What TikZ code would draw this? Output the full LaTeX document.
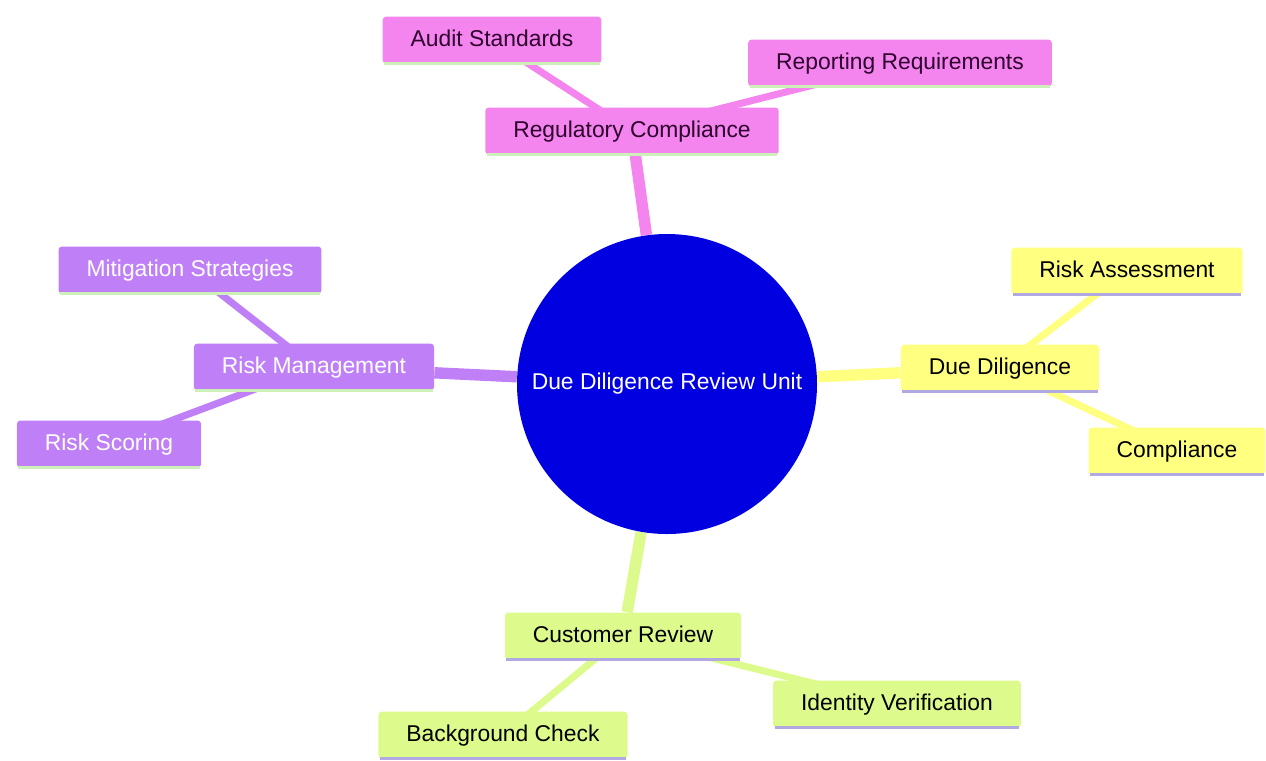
\documentclass[tikz,border=0pt]{standalone}
\usepackage{fontspec}
\setmainfont{Liberation Sans}
\usetikzlibrary{backgrounds}
\definecolor{pinkbr}{RGB}{244,132,238}
\definecolor{purplebr}{RGB}{191,128,247}
\definecolor{yellowbr}{RGB}{255,255,128}
\definecolor{greenbr}{RGB}{221,250,140}
\definecolor{lavline}{RGB}{178,168,228}
\definecolor{mintline}{RGB}{205,240,185}
\definecolor{hubblue}{RGB}{0,0,225}
\begin{document}
\begin{tikzpicture}[font=\fontsize{13}{15.6}\selectfont,
  leaf/.style={fill=#1,rounded corners=2pt,inner xsep=0.56cm,inner ysep=0pt,minimum height=0.94cm,text height=0.716em,text depth=0pt},
  mainedge/.style={draw=#1,line width=6.5pt},
  subedge/.style={draw=#1,line width=4pt}]
\useasboundingbox (0,0) rectangle (25.32,-15.2);
\node[circle,fill=hubblue,minimum size=6cm,text=white] (hub) at (13.34,-7.68) {Due Diligence Review Unit};
\node[leaf=pinkbr,text={rgb,255:red,45;green,0;blue,45}] (reg) at (12.64,-2.62) {Regulatory Compliance};
\node[leaf=pinkbr,text={rgb,255:red,45;green,0;blue,45}] (audit) at (9.84,-0.80) {Audit Standards};
\node[leaf=pinkbr,text={rgb,255:red,45;green,0;blue,45}] (report) at (18.0,-1.26) {Reporting Requirements};
\node[leaf=yellowbr] (dd) at (20.0,-7.36) {Due Diligence};
\node[leaf=yellowbr] (riskass) at (22.54,-5.42) {Risk Assessment};
\node[leaf=yellowbr] (compl) at (23.54,-9.02) {Compliance};
\node[leaf=purplebr,text=white] (riskman) at (6.28,-7.34) {Risk Management};
\node[leaf=purplebr,text=white] (mitig) at (3.80,-5.40) {Mitigation Strategies};
\node[leaf=purplebr,text=white] (scoring) at (2.18,-8.88) {Risk Scoring};
\node[leaf=greenbr] (cust) at (12.46,-12.72) {Customer Review};
\node[leaf=greenbr] (bgcheck) at (10.06,-14.70) {Background Check};
\node[leaf=greenbr] (ident) at (17.94,-14.08) {Identity Verification};
\foreach \n/\c in {reg/mintline,audit/mintline,report/mintline,riskman/mintline,mitig/mintline,scoring/mintline,
  dd/lavline,riskass/lavline,compl/lavline,cust/lavline,bgcheck/lavline,ident/lavline}
  \draw[\c,line width=1.6pt,shorten <=1pt,shorten >=1pt] (\n.south west) -- (\n.south east);
\begin{scope}[on background layer]
\draw[mainedge=pinkbr] (hub) -- (reg);
\draw[mainedge=yellowbr] (hub) -- (dd);
\draw[mainedge=purplebr] (hub) -- (riskman);
\draw[mainedge=greenbr] (hub) -- (cust);
\draw[subedge=pinkbr] (reg.center) -- (audit.center);
\draw[subedge=pinkbr] (reg.center) -- (report.center);
\draw[subedge=yellowbr] (dd.center) -- (riskass.center);
\draw[subedge=yellowbr] (dd.center) -- (compl.center);
\draw[subedge=purplebr] (riskman.center) -- (mitig.center);
\draw[subedge=purplebr] (riskman.center) -- (scoring.center);
\draw[subedge=greenbr] (cust.center) -- (bgcheck.center);
\draw[subedge=greenbr] (cust.center) -- (ident.center);
\end{scope}
\end{tikzpicture}
\end{document}
